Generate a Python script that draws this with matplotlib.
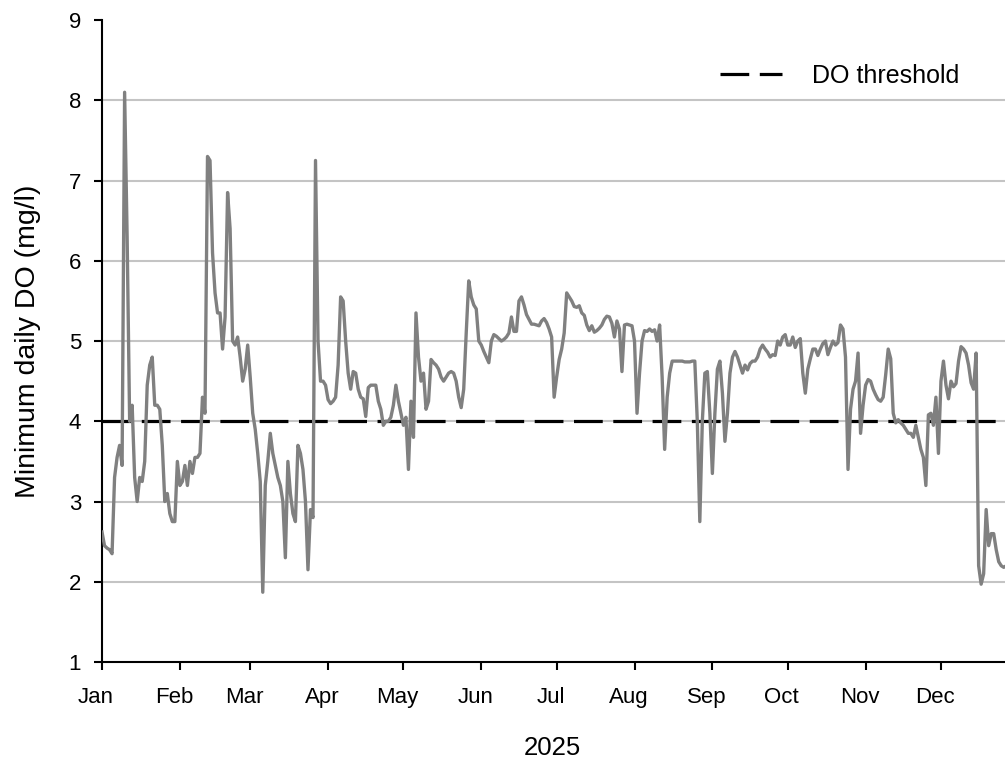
import numpy as np
import matplotlib.pyplot as plt
import matplotlib.dates as mdates
import matplotlib.transforms as mtransforms

plt.rcParams['font.family'] = ['Liberation Sans', 'DejaVu Sans']

# -----------------------------
# minimum daily DO, 2025 (mg/l), one value per day, by month
# -----------------------------
jan = [2.62, 2.45, 2.42, 2.40, 2.35, 3.30, 3.55, 3.70, 3.45, 8.10,
       6.30, 4.00, 4.20, 3.30, 3.00, 3.30, 3.25, 3.50, 4.45, 4.70,
       4.80, 4.20, 4.20, 4.15, 3.70, 3.00, 3.10, 2.85, 2.75, 2.75, 3.50]
feb = [3.20, 3.25, 3.45, 3.20, 3.50, 3.35, 3.55, 3.55, 3.60, 4.30,
       4.10, 7.30, 7.25, 6.10, 5.60, 5.35, 5.35, 4.90, 5.30, 6.85,
       6.40, 5.00, 4.95, 5.05, 4.80, 4.50, 4.65, 4.95]
mar = [4.55, 4.10, 3.90, 3.60, 3.25, 1.87, 3.20, 3.50, 3.85, 3.60,
       3.45, 3.30, 3.20, 3.00, 2.30, 3.50, 3.10, 2.85, 2.75, 3.70,
       3.60, 3.40, 3.00, 2.15, 2.90, 2.80, 7.25, 5.00, 4.50, 4.50, 4.45]
apr = [4.27, 4.22, 4.25, 4.30, 4.70, 5.55, 5.50, 5.00, 4.60, 4.40,
       4.62, 4.60, 4.40, 4.30, 4.28, 4.06, 4.42, 4.45, 4.45, 4.45,
       4.25, 4.15, 3.95, 4.00, 4.00, 4.05, 4.20, 4.45, 4.25, 4.10]
may = [3.95, 4.05, 3.40, 4.25, 3.80, 5.35, 4.80, 4.50, 4.60, 4.15,
       4.25, 4.77, 4.73, 4.70, 4.65, 4.55, 4.50, 4.55, 4.60, 4.62,
       4.60, 4.50, 4.30, 4.17, 4.40, 5.10, 5.75, 5.55, 5.45, 5.40, 5.00]
jun = [4.95, 4.87, 4.80, 4.73, 5.00, 5.08, 5.06, 5.03, 5.00, 5.02,
       5.05, 5.10, 5.30, 5.12, 5.12, 5.50, 5.55, 5.45, 5.33, 5.27,
       5.21, 5.21, 5.20, 5.19, 5.25, 5.28, 5.23, 5.15, 5.05, 4.30]
jul = [4.55, 4.77, 4.90, 5.10, 5.60, 5.55, 5.50, 5.43, 5.42, 5.44,
       5.35, 5.32, 5.20, 5.13, 5.19, 5.11, 5.13, 5.16, 5.20, 5.27,
       5.31, 5.30, 5.22, 5.05, 5.25, 5.15, 4.62, 5.20, 5.21, 5.20, 5.19]
aug = [5.00, 4.10, 4.60, 5.00, 5.13, 5.12, 5.15, 5.12, 5.14, 5.00,
       5.20, 4.55, 3.65, 4.30, 4.60, 4.75, 4.75, 4.75, 4.75, 4.75,
       4.74, 4.74, 4.74, 4.75, 4.75, 4.00, 2.75, 4.00, 4.60, 4.62, 4.10]
sep = [3.35, 4.10, 4.65, 4.75, 4.35, 3.75, 4.10, 4.60, 4.80, 4.87,
       4.80, 4.70, 4.60, 4.70, 4.64, 4.72, 4.75, 4.75, 4.80, 4.90,
       4.95, 4.90, 4.86, 4.80, 4.83, 4.82, 5.00, 4.95, 5.05, 5.08]
oct_ = [4.95, 4.95, 5.05, 4.92, 5.00, 5.03, 4.60, 4.35, 4.65, 4.78,
        4.90, 4.90, 4.82, 4.90, 4.97, 5.00, 4.83, 4.92, 5.00, 4.95,
        4.98, 5.20, 5.15, 4.80, 3.40, 4.15, 4.40, 4.50, 4.85, 3.85, 4.20]
nov = [4.45, 4.52, 4.50, 4.40, 4.33, 4.27, 4.25, 4.30, 4.58, 4.90,
       4.78, 4.10, 3.98, 4.02, 3.98, 3.95, 3.90, 3.85, 3.85, 3.80,
       3.95, 3.80, 3.65, 3.55, 3.20, 4.08, 4.10, 3.95, 4.30, 3.60]
dec = [4.50, 4.75, 4.45, 4.28, 4.50, 4.43, 4.47, 4.75, 4.93, 4.90,
       4.85, 4.70, 4.48, 4.40, 4.85, 2.20, 1.97, 2.10, 2.90, 2.45,
       2.60, 2.60, 2.40, 2.25, 2.20, 2.18, 2.20]

do_min = np.array(jan + feb + mar + apr + may + jun + jul + aug + sep + oct_ + nov + dec)
start = np.datetime64('2025-01-01')
dates = start + np.arange(len(do_min)).astype('timedelta64[D]')

threshold = 4.0
y_ticks = [1, 2, 3, 4, 5, 6, 7, 8, 9]
grid_levels = [2, 3, 4, 5, 6, 7, 8]

# -----------------------------
# figure
# -----------------------------
fig = plt.figure(figsize=(10.05, 7.65), dpi=100)
ax = fig.add_axes([0.1015, 0.1346, 0.8985, 0.8392])

for g in grid_levels:
    ax.axhline(g, color='#c4c4c4', linewidth=1.5, zorder=0)

ax.axhline(threshold, color='black', linewidth=2.3,
           linestyle=(0, (9, 3.3)), label='DO threshold', zorder=2)
ax.plot(dates, do_min, color='#808080', linewidth=2.4, zorder=3)

# limits and ticks
ax.set_xlim(start, start + np.timedelta64(359 * 24 + 12, 'h'))
ax.set_ylim(1, 9)
ax.set_yticks(y_ticks)
ax.xaxis.set_major_locator(mdates.MonthLocator())
ax.xaxis.set_major_formatter(mdates.DateFormatter('%b'))

ax.tick_params(axis='both', direction='out', length=6, width=1.5, labelsize=16)
ax.tick_params(axis='y', pad=9)
ax.tick_params(axis='x', pad=12)

# month labels sit slightly left of their ticks
shift = mtransforms.ScaledTranslation(-6 / 100, 0, fig.dpi_scale_trans)
for lbl in ax.xaxis.get_majorticklabels():
    lbl.set_transform(lbl.get_transform() + shift)

for side in ['top', 'right']:
    ax.spines[side].set_visible(False)
for side in ['left', 'bottom']:
    ax.spines[side].set_linewidth(1.5)

# labels
fig.text(28 / 1005, 1 - 341 / 765, 'Minimum daily DO (mg/l)',
         rotation=90, ha='center', va='center', fontsize=20.5)
fig.text(552 / 1005, 1 - 748 / 765, '2025', ha='center', va='center', fontsize=18.5)

# legend
ax.legend(loc='center left', bbox_to_anchor=(0.684, 0.9128), frameon=False,
          fontsize=18, borderaxespad=0, borderpad=0,
          handlelength=2.5, handletextpad=1.2)

plt.savefig('out.png', dpi=100)
